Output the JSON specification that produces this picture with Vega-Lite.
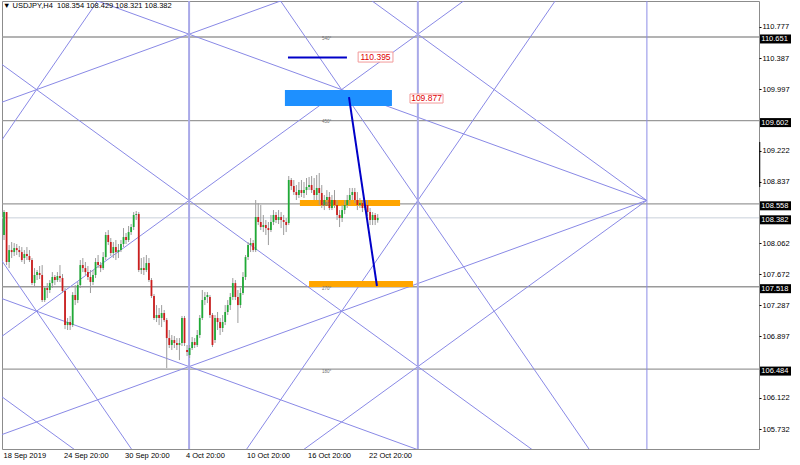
{
"$schema": "https://vega.github.io/schema/vega-lite/v6.json",
"width": 757, "height": 448,
"autosize": "none",
"padding": {"left": 2, "top": 1, "right": 41, "bottom": 16},
"background": "white",
"config": {"view": {"stroke": "#8c8c8c", "strokeWidth": 1}, "font": "Liberation Sans",
  "axis": {"labelOverlap": false, "labelSeparation": 0, "labelFlush": false, "grid": false, "domain": false, "title": null},
  "axisY": {"labelOverlap": false}, "axisRight": {"labelOverlap": false}},
"datasets": {
"candles": [
{"k":0,"o":108.167,"h":108.480,"l":108.104,"c":108.455},
{"k":1,"o":108.455,"h":108.455,"l":107.790,"c":107.828},
{"k":2,"o":107.828,"h":108.041,"l":107.752,"c":107.978},
{"k":3,"o":107.978,"h":108.079,"l":107.878,"c":107.953},
{"k":4,"o":107.953,"h":108.066,"l":107.903,"c":108.003},
{"k":5,"o":108.003,"h":108.054,"l":107.916,"c":107.978},
{"k":6,"o":107.978,"h":108.029,"l":107.890,"c":107.953},
{"k":7,"o":107.953,"h":108.016,"l":107.828,"c":107.853},
{"k":8,"o":107.878,"h":107.978,"l":107.803,"c":107.928},
{"k":9,"o":107.928,"h":108.016,"l":107.853,"c":107.903},
{"k":10,"o":107.903,"h":107.978,"l":107.828,"c":107.853},
{"k":11,"o":107.853,"h":107.878,"l":107.539,"c":107.564},
{"k":12,"o":107.564,"h":107.752,"l":107.514,"c":107.665},
{"k":13,"o":107.665,"h":107.728,"l":107.602,"c":107.702},
{"k":14,"o":107.690,"h":107.778,"l":107.615,"c":107.665},
{"k":15,"o":107.665,"h":107.790,"l":107.326,"c":107.351},
{"k":16,"o":107.351,"h":107.527,"l":107.326,"c":107.502},
{"k":17,"o":107.502,"h":107.564,"l":107.376,"c":107.477},
{"k":18,"o":107.477,"h":107.602,"l":107.439,"c":107.564},
{"k":19,"o":107.564,"h":107.702,"l":107.502,"c":107.640},
{"k":20,"o":107.640,"h":107.665,"l":107.539,"c":107.602},
{"k":21,"o":107.602,"h":107.702,"l":107.577,"c":107.652},
{"k":22,"o":107.652,"h":107.790,"l":107.577,"c":107.627},
{"k":23,"o":107.627,"h":107.677,"l":107.439,"c":107.464},
{"k":24,"o":107.464,"h":107.502,"l":106.987,"c":107.037},
{"k":25,"o":107.037,"h":107.126,"l":106.975,"c":107.075},
{"k":26,"o":107.075,"h":107.151,"l":106.975,"c":107.037},
{"k":27,"o":107.037,"h":107.451,"l":107.012,"c":107.414},
{"k":28,"o":107.414,"h":107.539,"l":107.288,"c":107.351},
{"k":29,"o":107.351,"h":107.577,"l":107.313,"c":107.539},
{"k":30,"o":107.539,"h":107.853,"l":107.502,"c":107.790},
{"k":31,"o":107.790,"h":107.878,"l":107.702,"c":107.752},
{"k":32,"o":107.752,"h":107.828,"l":107.665,"c":107.702},
{"k":33,"o":107.702,"h":107.778,"l":107.602,"c":107.640},
{"k":34,"o":107.640,"h":107.728,"l":107.439,"c":107.577},
{"k":35,"o":107.577,"h":107.728,"l":107.539,"c":107.665},
{"k":36,"o":107.665,"h":107.878,"l":107.627,"c":107.828},
{"k":37,"o":107.828,"h":107.916,"l":107.752,"c":107.790},
{"k":38,"o":107.790,"h":107.828,"l":107.702,"c":107.752},
{"k":39,"o":107.752,"h":107.953,"l":107.728,"c":107.890},
{"k":40,"o":107.890,"h":108.204,"l":107.853,"c":108.167},
{"k":41,"o":108.167,"h":108.229,"l":108.041,"c":108.079},
{"k":42,"o":108.079,"h":108.129,"l":107.903,"c":107.941},
{"k":43,"o":107.941,"h":108.079,"l":107.878,"c":108.016},
{"k":44,"o":108.016,"h":108.104,"l":107.853,"c":107.953},
{"k":45,"o":107.953,"h":108.054,"l":107.878,"c":107.978},
{"k":46,"o":107.978,"h":108.104,"l":107.953,"c":108.054},
{"k":47,"o":108.054,"h":108.254,"l":108.016,"c":108.141},
{"k":48,"o":108.141,"h":108.192,"l":108.054,"c":108.104},
{"k":49,"o":108.104,"h":108.280,"l":108.079,"c":108.204},
{"k":50,"o":108.204,"h":108.305,"l":108.167,"c":108.267},
{"k":51,"o":108.267,"h":108.455,"l":108.229,"c":108.418},
{"k":52,"o":108.418,"h":108.468,"l":108.355,"c":108.430},
{"k":53,"o":108.430,"h":108.455,"l":107.702,"c":107.728},
{"k":54,"o":107.728,"h":107.878,"l":107.677,"c":107.752},
{"k":55,"o":107.752,"h":107.890,"l":107.665,"c":107.728},
{"k":56,"o":107.728,"h":107.916,"l":107.702,"c":107.815},
{"k":57,"o":107.815,"h":107.878,"l":107.577,"c":107.602},
{"k":58,"o":107.602,"h":107.627,"l":107.376,"c":107.401},
{"k":59,"o":107.401,"h":107.426,"l":107.100,"c":107.126},
{"k":60,"o":107.126,"h":107.288,"l":107.075,"c":107.163},
{"k":61,"o":107.163,"h":107.251,"l":107.037,"c":107.126},
{"k":62,"o":107.126,"h":107.288,"l":107.012,"c":107.188},
{"k":63,"o":107.188,"h":107.226,"l":107.075,"c":107.100},
{"k":64,"o":107.100,"h":107.126,"l":106.498,"c":106.874},
{"k":65,"o":106.874,"h":106.975,"l":106.749,"c":106.787},
{"k":66,"o":106.787,"h":106.912,"l":106.724,"c":106.849},
{"k":67,"o":106.849,"h":106.899,"l":106.749,"c":106.812},
{"k":68,"o":106.812,"h":106.874,"l":106.724,"c":106.787},
{"k":69,"o":106.787,"h":106.874,"l":106.598,"c":106.812},
{"k":70,"o":106.812,"h":107.151,"l":106.774,"c":107.126},
{"k":71,"o":107.126,"h":107.151,"l":106.774,"c":106.812},
{"k":72,"o":106.724,"h":106.787,"l":106.649,"c":106.699},
{"k":73,"o":106.661,"h":106.787,"l":106.624,"c":106.749},
{"k":74,"o":106.749,"h":106.887,"l":106.724,"c":106.824},
{"k":75,"o":106.824,"h":106.874,"l":106.749,"c":106.787},
{"k":76,"o":106.787,"h":106.975,"l":106.762,"c":106.912},
{"k":77,"o":106.912,"h":107.163,"l":106.874,"c":107.126},
{"k":78,"o":107.126,"h":107.477,"l":107.100,"c":107.351},
{"k":79,"o":107.351,"h":107.451,"l":107.288,"c":107.389},
{"k":80,"o":107.389,"h":107.451,"l":107.313,"c":107.414},
{"k":81,"o":107.389,"h":107.414,"l":107.126,"c":107.163},
{"k":82,"o":107.163,"h":107.188,"l":106.762,"c":106.787},
{"k":83,"o":106.849,"h":107.163,"l":106.812,"c":107.126},
{"k":84,"o":107.126,"h":107.201,"l":106.975,"c":107.075},
{"k":85,"o":107.075,"h":107.126,"l":106.912,"c":107.000},
{"k":86,"o":107.000,"h":107.163,"l":106.950,"c":107.075},
{"k":87,"o":107.075,"h":107.288,"l":107.037,"c":107.201},
{"k":88,"o":107.201,"h":107.351,"l":107.163,"c":107.288},
{"k":89,"o":107.288,"h":107.439,"l":107.226,"c":107.389},
{"k":90,"o":107.389,"h":107.627,"l":107.351,"c":107.564},
{"k":91,"o":107.564,"h":107.602,"l":107.351,"c":107.389},
{"k":92,"o":107.389,"h":107.477,"l":107.063,"c":107.288},
{"k":93,"o":107.288,"h":107.502,"l":107.251,"c":107.439},
{"k":94,"o":107.439,"h":107.702,"l":107.414,"c":107.640},
{"k":95,"o":107.640,"h":107.916,"l":107.602,"c":107.890},
{"k":96,"o":107.890,"h":108.079,"l":107.853,"c":108.041},
{"k":97,"o":108.041,"h":108.129,"l":107.953,"c":108.066},
{"k":98,"o":108.066,"h":108.104,"l":107.953,"c":107.978},
{"k":99,"o":107.978,"h":108.606,"l":107.953,"c":108.393},
{"k":100,"o":108.393,"h":108.568,"l":108.292,"c":108.330},
{"k":101,"o":108.330,"h":108.543,"l":108.229,"c":108.267},
{"k":102,"o":108.267,"h":108.418,"l":108.204,"c":108.292},
{"k":103,"o":108.292,"h":108.355,"l":108.167,"c":108.254},
{"k":104,"o":108.254,"h":108.330,"l":108.041,"c":108.229},
{"k":105,"o":108.229,"h":108.418,"l":108.204,"c":108.330},
{"k":106,"o":108.330,"h":108.480,"l":108.292,"c":108.418},
{"k":107,"o":108.418,"h":108.455,"l":108.317,"c":108.355},
{"k":108,"o":108.355,"h":108.480,"l":108.305,"c":108.393},
{"k":109,"o":108.393,"h":108.455,"l":108.254,"c":108.355},
{"k":110,"o":108.355,"h":108.418,"l":108.167,"c":108.330},
{"k":111,"o":108.330,"h":108.380,"l":108.204,"c":108.292},
{"k":112,"o":108.317,"h":108.907,"l":108.292,"c":108.857},
{"k":113,"o":108.857,"h":108.882,"l":108.731,"c":108.782},
{"k":114,"o":108.782,"h":108.857,"l":108.669,"c":108.706},
{"k":115,"o":108.706,"h":108.794,"l":108.606,"c":108.669},
{"k":116,"o":108.669,"h":108.832,"l":108.631,"c":108.731},
{"k":117,"o":108.731,"h":108.857,"l":108.644,"c":108.694},
{"k":118,"o":108.694,"h":108.832,"l":108.631,"c":108.731},
{"k":119,"o":108.731,"h":108.882,"l":108.669,"c":108.769},
{"k":120,"o":108.769,"h":108.895,"l":108.731,"c":108.794},
{"k":121,"o":108.794,"h":108.907,"l":108.694,"c":108.731},
{"k":122,"o":108.731,"h":108.882,"l":108.606,"c":108.669},
{"k":123,"o":108.669,"h":108.920,"l":108.606,"c":108.757},
{"k":124,"o":108.757,"h":108.945,"l":108.543,"c":108.694},
{"k":125,"o":108.694,"h":108.794,"l":108.506,"c":108.543},
{"k":126,"o":108.543,"h":108.669,"l":108.480,"c":108.606},
{"k":127,"o":108.606,"h":108.731,"l":108.543,"c":108.644},
{"k":128,"o":108.644,"h":108.706,"l":108.480,"c":108.506},
{"k":129,"o":108.506,"h":108.669,"l":108.480,"c":108.606},
{"k":130,"o":108.606,"h":108.731,"l":108.506,"c":108.543},
{"k":131,"o":108.543,"h":108.606,"l":108.355,"c":108.418},
{"k":132,"o":108.418,"h":108.480,"l":108.267,"c":108.380},
{"k":133,"o":108.380,"h":108.543,"l":108.330,"c":108.480},
{"k":134,"o":108.480,"h":108.606,"l":108.430,"c":108.543},
{"k":135,"o":108.543,"h":108.669,"l":108.506,"c":108.606},
{"k":136,"o":108.606,"h":108.757,"l":108.543,"c":108.669},
{"k":137,"o":108.669,"h":108.757,"l":108.606,"c":108.706},
{"k":138,"o":108.706,"h":108.757,"l":108.568,"c":108.606},
{"k":139,"o":108.606,"h":108.706,"l":108.480,"c":108.543},
{"k":140,"o":108.543,"h":108.631,"l":108.506,"c":108.568},
{"k":141,"o":108.568,"h":108.606,"l":108.455,"c":108.506},
{"k":142,"o":108.506,"h":108.606,"l":108.480,"c":108.543},
{"k":143,"o":108.543,"h":108.606,"l":108.405,"c":108.455},
{"k":144,"o":108.455,"h":108.506,"l":108.292,"c":108.355},
{"k":145,"o":108.355,"h":108.455,"l":108.292,"c":108.418},
{"k":146,"o":108.418,"h":108.443,"l":108.292,"c":108.355},
{"k":147,"o":108.354,"h":108.429,"l":108.321,"c":108.382}
],
"gann": [
{"id":"L1","k":-107.2,"p":112.771},{"id":"L1","k":252.8,"p":104.431},
{"id":"b","k":-17.2,"p":111.729},{"id":"b","k":252.8,"p":108.601},
{"id":"d","k":117.8,"p":111.729},{"id":"d","k":252.8,"p":108.601},
{"id":"m","k":252.8,"p":108.601},{"id":"m","k":-35.2,"p":105.265},
{"id":"n","k":252.8,"p":108.601},{"id":"n","k":72.8,"p":104.431},
{"id":"a","k":95.3,"p":111.729},{"id":"a","k":252.8,"p":104.431},
{"id":"e","k":230.3,"p":111.729},{"id":"e","k":72.8,"p":104.431},
{"id":"c","k":-62.2,"p":105.474},{"id":"c","k":207.8,"p":111.729},
{"id":"p","k":-62.2,"p":108.080},{"id":"p","k":207.8,"p":104.952},
{"id":"z1","k":-39.7,"p":109.644},{"id":"z1","k":63.8,"p":104.848},
{"id":"z4","k":-62.2,"p":107.559},{"id":"z4","k":45.8,"p":105.056},
{"id":"z71","k":-39.7,"p":107.559},{"id":"z71","k":50.3,"p":111.729},
{"id":"z73","k":-107.2,"p":108.601},{"id":"z73","k":162.8,"p":111.729}
],
"levels": [{"p":110.651},{"p":109.602},{"p":108.558},{"p":107.518},{"p":106.484}],
"degrees": [{"t":"540°","p":110.626},{"t":"450°","p":109.585},{"t":"360°","p":108.543},{"t":"270°","p":107.489},{"t":"180°","p":106.448}],
"boxes": [
{"t":"110.651","v":110.651,"lo":110.570,"hi":110.683},
{"t":"109.602","v":109.602,"lo":109.521,"hi":109.634},
{"t":"108.558","v":108.558,"lo":108.477,"hi":108.590},
{"t":"108.382","v":108.382,"lo":108.301,"hi":108.414},
{"t":"107.518","v":107.518,"lo":107.437,"hi":107.550},
{"t":"106.484","v":106.484,"lo":106.403,"hi":106.516}
],
"orange": [
{"k0":116.4,"k1":155.8,"p0":108.530,"p1":108.606},
{"k0":120.0,"k1":160.9,"p0":107.514,"p1":107.590}
],
"bluerect": [{"k0":110.5,"k1":152.6,"p0":109.785,"p1":109.986}],
"navy": [
{"id":"h","k":111.7,"p":110.395},{"id":"h","k":134.9,"p":110.395},
{"id":"d","k":135.7,"p":109.898},{"id":"d","k":146.7,"p":107.527}
],
"redlabels": [
{"t":"110.395","k0":139.3,"k1":153.0,"p0":110.337,"p1":110.463,"kt":146.15,"pt":110.400},
{"t":"109.877","k0":159.7,"k1":172.7,"p0":109.823,"p1":109.936,"kt":166.2,"pt":109.880}
]
},
"layer": [
{"data": {"name": "candles"},
 "mark": {"type": "rule", "color": "#9c9c9c", "strokeWidth": 1, "opacity": 0},
 "encoding": {
   "x": {"field": "k", "type": "quantitative", "scale": {"domain": [-0.8, 297], "nice": false, "zero": false},
     "axis": {"values": [-0.4, 23.4, 47.4, 71.4, 95.4, 119.4, 143.4],
       "labelExpr": "datum.value < 10 ? '18 Sep 2019' : datum.value < 30 ? '24 Sep 20:00' : datum.value < 55 ? '30 Sep 20:00' : datum.value < 80 ? '4 Oct 20:00' : datum.value < 100 ? '10 Oct 20:00' : datum.value < 130 ? '16 Oct 20:00' : '22 Oct 20:00'",
       "labelAlign": "left", "labelBaseline": "top", "labelPadding": 2, "ticks": false, "domain": false, "grid": false, "title": null,
       "labelFontSize": 7.5, "labelColor": "#000000", "labelFlush": false, "labelOverlap": false}},
   "y": {"field": "l", "type": "quantitative", "scale": {"domain": [105.482, 111.103], "nice": false, "zero": false},
     "axis": {"orient": "right", "values": [110.777, 110.387, 109.997, 109.222, 108.837, 108.062, 107.672, 107.287, 106.897, 106.122, 105.732],
       "format": ".3f", "ticks": true, "tickSize": 2, "tickColor": "#000000", "labelPadding": 1, "domain": false, "grid": false, "title": null,
       "labelFontSize": 7.5, "labelColor": "#000000", "labelFlush": false, "labelOverlap": false, "labelSeparation": 0}},
   "y2": {"field": "h"}}},
{"data": {"name": "levels"},
 "mark": {"type": "rule", "color": "#9a9a9a", "strokeWidth": 1.3},
 "encoding": {"y": {"field": "p", "type": "quantitative"}}},
{"data": {"values": [{"p": 108.382}]},
 "mark": {"type": "rule", "color": "#c9d1da", "strokeWidth": 1},
 "encoding": {"y": {"field": "p", "type": "quantitative"}}},
{"data": {"name": "gann"},
 "mark": {"type": "line", "clip": true, "color": "#8989e6", "strokeWidth": 1},
 "encoding": {
   "x": {"field": "k", "type": "quantitative"},
   "y": {"field": "p", "type": "quantitative"},
   "detail": {"field": "id"}}},
{"data": {"values": [{"k": 72.8}, {"k": 162.8}]},
 "mark": {"type": "rule", "color": "#a9a9e8", "strokeWidth": 2},
 "encoding": {"x": {"field": "k", "type": "quantitative"}}},
{"data": {"values": [{"k": 252.9}]},
 "mark": {"type": "rule", "color": "#8c8ce6", "strokeWidth": 1},
 "encoding": {"x": {"field": "k", "type": "quantitative"}}},
{"data": {"name": "orange"},
 "mark": {"type": "rect", "color": "#ffa500"},
 "encoding": {
   "x": {"field": "k0", "type": "quantitative"}, "x2": {"field": "k1"},
   "y": {"field": "p0", "type": "quantitative"}, "y2": {"field": "p1"}}},
{"data": {"name": "bluerect"},
 "mark": {"type": "rect", "color": "#1e90ff"},
 "encoding": {
   "x": {"field": "k0", "type": "quantitative"}, "x2": {"field": "k1"},
   "y": {"field": "p0", "type": "quantitative"}, "y2": {"field": "p1"}}},
{"data": {"name": "candles"},
 "mark": {"type": "rule", "color": "#9c9c9c", "strokeWidth": 1},
 "encoding": {
   "x": {"field": "k", "type": "quantitative"},
   "y": {"field": "l", "type": "quantitative"},
   "y2": {"field": "h"}}},
{"data": {"name": "candles"},
 "mark": {"type": "rule", "strokeWidth": 1.8},
 "encoding": {
   "x": {"field": "k", "type": "quantitative"},
   "y": {"field": "o", "type": "quantitative"},
   "y2": {"field": "c"},
   "color": {"condition": {"test": "datum.c >= datum.o", "value": "#1faa36"}, "value": "#cc1e1e"}}},
{"data": {"name": "navy"},
 "mark": {"type": "line", "color": "#0000c8", "strokeWidth": 2},
 "encoding": {
   "x": {"field": "k", "type": "quantitative"},
   "y": {"field": "p", "type": "quantitative"},
   "detail": {"field": "id"}}},
{"data": {"name": "redlabels"},
 "mark": {"type": "rect", "fill": "#ffffff", "stroke": "#f29a9a", "strokeWidth": 1},
 "encoding": {
   "x": {"field": "k0", "type": "quantitative"}, "x2": {"field": "k1"},
   "y": {"field": "p0", "type": "quantitative"}, "y2": {"field": "p1"}}},
{"data": {"name": "redlabels"},
 "mark": {"type": "text", "color": "#e00000", "fontSize": 8.5, "align": "center", "baseline": "middle"},
 "encoding": {
   "x": {"field": "kt", "type": "quantitative"},
   "y": {"field": "pt", "type": "quantitative"},
   "text": {"field": "t"}}},
{"data": {"name": "degrees"},
 "mark": {"type": "text", "color": "#707070", "fontSize": 4.5, "align": "left", "baseline": "middle"},
 "encoding": {
   "x": {"datum": 125.1, "type": "quantitative"},
   "y": {"field": "p", "type": "quantitative"},
   "text": {"field": "t"}}},
{"data": {"values": [{"t": "\u25bc USDJPY,H4\u00a0\u00a0108.354 108.429 108.321 108.382"}]},
 "mark": {"type": "text", "color": "#000000", "fontSize": 7.5, "align": "left", "baseline": "middle"},
 "encoding": {
   "x": {"datum": -0.4, "type": "quantitative"},
   "y": {"datum": 111.04, "type": "quantitative"},
   "text": {"field": "t"}}},
{"data": {"name": "boxes"},
 "mark": {"type": "rect", "color": "#000000"},
 "encoding": {
   "x": {"datum": 297.4, "type": "quantitative"}, "x2": {"datum": 309.6},
   "y": {"field": "lo", "type": "quantitative"}, "y2": {"field": "hi"}}},
{"data": {"name": "boxes"},
 "mark": {"type": "text", "color": "#ffffff", "fontSize": 7.5, "align": "left", "baseline": "middle", "dy": 2},
 "encoding": {
   "x": {"datum": 297.9, "type": "quantitative"},
   "y": {"field": "v", "type": "quantitative"},
   "text": {"field": "t"}}},
{"data": {"values": [{"a": 109.334, "b": 108.769}]},
 "mark": {"type": "rule", "color": "#000000", "strokeWidth": 1},
 "encoding": {
   "x": {"datum": 297.3, "type": "quantitative"},
   "y": {"field": "a", "type": "quantitative"},
   "y2": {"field": "b"}}}
]
}
